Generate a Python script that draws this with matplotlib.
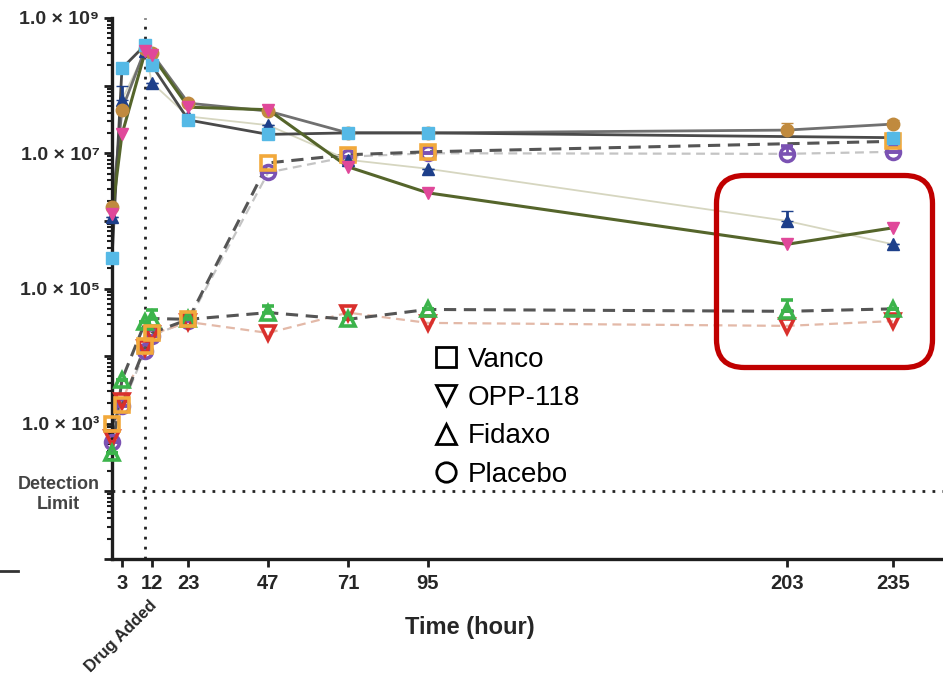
import matplotlib
matplotlib.use("Agg")
import matplotlib.pyplot as plt
import numpy as np
from matplotlib.lines import Line2D
from matplotlib.patches import FancyBboxPatch
from matplotlib.ticker import LogLocator, NullFormatter

plt.rcParams["font.family"] = ["Liberation Sans", "DejaVu Sans"]

# sampling times (hours after inoculation)
hours = [0, 3, 10, 12, 23, 47, 71, 95, 203, 235]
tick_hours = [3, 12, 23, 47, 71, 95, 203, 235]
drug_added_hour = 10
detection_limit = 1e2

nan = float("nan")

# total counts (CFU), solid lines
vanco_total = [2.8e5, 1.8e8, 4.0e8, 2.0e8, 3.1e7, 1.9e7, 2.0e7, 2.0e7, nan, 1.7e7]
opp_total = [1.26e6, 1.9e7, 3.2e8, 2.8e8, 4.8e7, 4.4e7, 6.3e6, 2.6e6, 4.5e5, 7.9e5]
fidaxo_total = [1.15e6, 6.2e7, 3.2e8, 1.1e8, 3.5e7, 2.6e7, 8.0e6, 5.9e6, 1.0e6, 4.5e5]
placebo_total = [1.6e6, 4.4e7, 3.5e8, 3.0e8, 5.5e7, 4.2e7, 2.0e7, 2.0e7, 2.2e7, 2.7e7]

# spore counts (CFU), dashed lines
vanco_spore = [9.8e2, 1.9e3, 1.4e4, 2.2e4, 3.5e4, 7.2e6, 9.5e6, 1.05e7, nan, 1.5e7]
opp_spore = [6.2e2, 2.2e3, 1.3e4, 2.1e4, 3.2e4, 2.2e4, 4.4e4, 3.1e4, 2.8e4, 3.3e4]
fidaxo_spore = [3.7e2, 4.5e3, 3.2e4, 3.6e4, 3.5e4, 4.4e4, 3.5e4, 4.9e4, 4.6e4, 5.0e4]
placebo_spore = [5.4e2, 1.8e3, 1.2e4, 2.0e4, 3.3e4, 5.2e6, 8.9e6, 1.0e7, 9.8e6, 1.05e7]

# upper error (CFU)
fidaxo_total_err = [0, 3.8e7, 0, 0, 0, 0, 0, 0, 4.0e5, 0]
placebo_total_err = [0, 0, 0, 0, 0, 0, 0, 0, 6.0e6, 4.0e6]
fidaxo_spore_err = [0, 0, 0, 1.2e4, 0, 1.2e4, 0, 0, 2.2e4, 0]
placebo_spore_err = [0, 0, 0, 0, 0, 0, 0, 0, 3.0e6, 0]

legend_names = ["Vanco", "OPP-118", "Fidaxo", "Placebo"]
legend_markers = ["s", "v", "^", "o"]

# (values, upper err, marker, marker colour, filled, line colour, line style, line width)
series = [
    (placebo_spore, placebo_spore_err, "o", "#7b52b3", False, "#c4c4c4", "--", 1.6),
    (opp_spore, None, "v", "#d9302c", False, "#e3b9a8", "--", 1.6),
    (fidaxo_spore, fidaxo_spore_err, "^", "#3cb44b", False, "#555555", "--", 2.2),
    (vanco_spore, None, "s", "#f2a93b", False, "#555555", "--", 2.2),
    (fidaxo_total, fidaxo_total_err, "^", "#1d3f8a", True, "#d6d6c0", "-", 1.3),
    (placebo_total, placebo_total_err, "o", "#c08a3e", True, "#707070", "-", 2.0),
    (vanco_total, None, "s", "#55b9e6", True, "#4a4a4a", "-", 2.0),
    (opp_total, None, "v", "#e0489a", True, "#55652b", "-", 2.2),
]

fig = plt.figure(figsize=(9.43, 6.78), dpi=100)
ax = fig.add_axes([112 / 943, 119 / 678, 831 / 943, 541 / 678])
ax.set_yscale("log")
ax.set_xlim(0, 250)
ax.set_ylim(1e1, 1e9)

t = np.array(hours, dtype=float)
for vals, err, marker, mcolor, filled, lcolor, ls, lw in series:
    v = np.array(vals, dtype=float)
    ok = np.isfinite(v)
    line_kw = dict(dashes=(4, 2.5)) if ls == "--" else {}
    ax.plot(t[ok], v[ok], color=lcolor, lw=lw, ls=ls, zorder=2, clip_on=False, **line_kw)

for vals, err, marker, mcolor, filled, lcolor, ls, lw in series:
    v = np.array(vals, dtype=float)
    ok = np.isfinite(v)
    yerr = None
    if err is not None:
        e = np.array(err, dtype=float)[ok]
        yerr = [np.zeros(len(e)), e]
    ax.errorbar(t[ok], v[ok], yerr=yerr, fmt=marker, ls="none",
                ms=9 if filled else 10, mfc=mcolor if filled else "none",
                mec=mcolor, mew=1 if filled else 2.6, ecolor=mcolor,
                elinewidth=2, capsize=4, capthick=2, zorder=4, clip_on=False)

# reference lines
ax.axvline(drug_added_hour, color="#222222", lw=2, ls=(0, (1, 2.6)), zorder=1)
ax.axhline(detection_limit, color="#222222", lw=2, ls=(0, (1, 2.6)), zorder=1)

for side in ("top", "right"):
    ax.spines[side].set_visible(False)
for side in ("left", "bottom"):
    ax.spines[side].set_linewidth(2.4)
    ax.spines[side].set_color("#1e1e1e")

ax.set_xticks(tick_hours)
ax.set_xticklabels([str(h) for h in tick_hours], fontsize=14.5, fontweight="bold", color="#262626")
ax.tick_params(axis="x", length=6, width=2, pad=5, color="#1e1e1e")

sup = str.maketrans("0123456789", "⁰¹²³⁴⁵⁶⁷⁸⁹")
ytick_vals = [10.0 ** k for k in range(1, 10)]
ytick_labels = []
for k in range(1, 10):
    if k == 2:
        ytick_labels.append("Detection\nLimit")
    elif k % 2 == 1 and k >= 3:
        ytick_labels.append("1.0 × 10" + str(k).translate(sup))
    else:
        ytick_labels.append("")
ax.set_yticks(ytick_vals)
ax.set_yticklabels(ytick_labels, fontsize=14, fontweight="bold", color="#2b2b2b")
ax.yaxis.set_minor_locator(LogLocator(base=10, subs=np.arange(2, 10)))
ax.yaxis.set_minor_formatter(NullFormatter())
ax.tick_params(axis="y", which="major", length=6, width=2, pad=3, color="#1e1e1e")
ax.tick_params(axis="y", which="minor", length=3.5, width=1.5, color="#1e1e1e")
for lbl in ax.get_yticklabels():
    if lbl.get_text().startswith("Detection"):
        lbl.set_fontsize(13)
        lbl.set_color("#444444")
        lbl.set_multialignment("center")

ax.set_xlabel("Time (hour)", fontsize=17, fontweight="bold", color="#262626")
ax.xaxis.set_label_coords((470 - 112) / 831, -0.105)

fig.text(121 / 943, 1 - 636 / 678, "Drug Added", rotation=45, ha="center", va="center",
         rotation_mode="anchor", fontsize=12, fontweight="bold", color="#262626")

# short axis stub at the left edge
fig.add_artist(Line2D([0, 18 / 943], [1 - 571 / 678] * 2, transform=fig.transFigure,
                      color="#333333", lw=2))

handles = [Line2D([], [], marker=m, ls="none", mfc="none", mec="black", ms=14, mew=2)
           for m in legend_markers]
ax.legend(handles, legend_names, loc="upper left", bbox_to_anchor=(418 / 943, 1 - 333 / 678),
          bbox_transform=fig.transFigure, frameon=False, borderpad=0, handletextpad=0.3,
          labelspacing=0.44, handlelength=1.0,
          prop={"family": ["Liberation Sans Narrow", "Liberation Sans"], "size": 20})

# highlight box around the late time points
box = FancyBboxPatch((7.165, 3.105), 2.16, 1.92, boxstyle="round,pad=0,rounding_size=0.28",
                     transform=fig.dpi_scale_trans, fill=False, ec="#c00000", lw=3.8)
fig.add_artist(box)

fig.savefig("out.png", dpi=100, facecolor="white")
